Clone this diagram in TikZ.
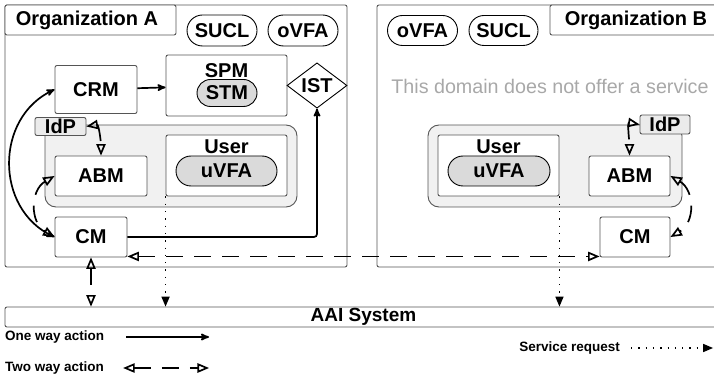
\documentclass[tikz,border=0pt]{standalone}
\usepackage{fontspec}
\setmainfont{Liberation Sans}
\usetikzlibrary{arrows,shapes.geometric,shapes.misc}
\usetikzlibrary{calc,positioning}
\definecolor{framegray}{HTML}{555555}
\definecolor{zonegray}{HTML}{F1F1F1}
\definecolor{pillgray}{HTML}{DADADA}
\definecolor{idpgray}{HTML}{EBEBEB}
\definecolor{notegray}{HTML}{A8A8A8}

\begin{document}
\begin{tikzpicture}[x=1pt,y=-1pt,>=stealth',
    every node/.style={font=\bfseries\fontsize{20}{22}\selectfont, inner sep=0pt},
    frame/.style={draw=framegray, line width=0.9pt, rounded corners=2pt},
    box/.style={draw=framegray, line width=0.9pt, fill=white, rounded corners=2pt},
    idp/.style={box, fill=idpgray},
    pill/.style={rounded rectangle, draw=black, line width=0.9pt, fill=white},
    vpill/.style={pill, fill=pillgray},
    userzone/.style={draw=framegray, line width=0.9pt, fill=zonegray, rounded corners=11pt},
    oneway/.style={line width=1.7pt},
    twoway/.style={open triangle 45-open triangle 45, line width=1.7pt, dash pattern=on 17pt off 11pt},
    request/.style={-triangle 45, line width=1.3pt, dash pattern=on 1.3pt off 6pt},
    legend/.style={font=\bfseries\fontsize{13.5}{16}\selectfont}]

    \useasboundingbox (0,0) rectangle (714,379);

    % organizations
    \node[frame, minimum width=342, minimum height=262] (orgA) at (176,136) {};
    \node[frame, minimum width=344, minimum height=262] (orgB) at (549,136) {};
    \node[box, minimum width=171, minimum height=30] (titleA) at (90.5,20) {};
    \node (titleAlabel) at (87,20) {Organization A};
    \node[box, minimum width=172, minimum height=30] (titleB) at (636,20) {Organization B};

    \node[pill, minimum width=70, minimum height=31] (SUCLa) at (222,30.5) {SUCL};
    \node[pill, minimum width=70, minimum height=31] (oVFAa) at (303,30.5) {oVFA};
    \node[pill, minimum width=70, minimum height=30] (oVFAb) at (422.5,30.5) {oVFA};
    \node[pill, minimum width=69, minimum height=30] (SUCLb) at (503.5,30.5) {SUCL};

    % organization A
    \node[box, minimum width=82, minimum height=48] (CRMa) at (96,89.5) {CRM};
    \node[box, minimum width=121, minimum height=61] (SPMa) at (226.5,85.5) {};
    \node (SPMlabel) [below=9pt of SPMa.north] {SPM};
    \node[vpill, minimum width=60, minimum height=27] (STMa) at (227,93) {STM};
    \node[diamond, draw=black, line width=0.9pt, fill=white, minimum width=60, minimum height=39] (ISTa) at (317,85.5) {IST};

    \node[userzone, minimum width=252, minimum height=82] (zoneA) at (171,166) {};
    \node[idp, minimum width=51, minimum height=18] (IdPa) at (60.5,126.5) {IdP};
    \node[box, minimum width=121, minimum height=61] (USERa) at (226.5,165.5) {};
    \node (USERalabel) [below=5pt of USERa.north] {User};
    \node[vpill, minimum width=101, minimum height=30] (uVFAa) at (226.5,171) {uVFA};
    \node[box, minimum width=92, minimum height=40] (ABMa) at (101,176) {ABM};
    \node[box, minimum width=72, minimum height=40] (CMa) at (91,237) {CM};

    % organization B
    \node[font=\fontsize{19.7}{22}\selectfont, text=notegray] (note) at (550,86) {This domain does not offer a service};
    \node[userzone, minimum width=254, minimum height=82] (zoneB) at (555,166) {};
    \node[idp, minimum width=50, minimum height=19] (IdPb) at (665,124.5) {IdP};
    \node[box, minimum width=121, minimum height=61] (USERb) at (498.5,165.5) {};
    \node (USERblabel) [below=5pt of USERb.north] {User};
    \node[vpill, minimum width=102, minimum height=30] (uVFAb) at (499,171) {uVFA};
    \node[box, minimum width=81, minimum height=40] (ABMb) at (629.5,176) {ABM};
    \node[box, minimum width=70, minimum height=40] (CMb) at (635,237) {CM};

    \node[box, minimum width=717, minimum height=20, font=\bfseries\fontsize{19}{22}\selectfont] (AAI) at (363.5,317) {AAI System};

    % connectors
    \path[->,oneway] (CRMa) edge (SPMa);
    \draw[->,oneway,rounded corners=3pt] (CMa.east) -- (ISTa.south |- CMa.east) -- (ISTa.south);
    \path[<->,oneway] (CRMa.west) edge[out=205,in=155,looseness=1.15] (CMa.west);
    \path[twoway] (ABMa.west) edge[out=210,in=150,looseness=1.2] (CMa.west);
    \path[twoway] (IdPa.east) edge[out=10,in=90] (ABMa.north);
    \path[twoway] (IdPb.west) edge[out=170,in=90] (ABMb.north);
    \path[twoway] (ABMb.east) edge[out=-30,in=30,looseness=1.2] (CMb.east);
    \draw[twoway] ([yshift=1pt]CMa.south east) -- ([yshift=1pt]CMb.south west);
    \draw[twoway] (CMa.south) -- (CMa.south |- AAI.north);
    \draw[request] (USERa.south west) -- (USERa.south west |- AAI.north);
    \draw[request] (USERb.south east) -- (USERb.south east |- AAI.north);

    % legend
    \node[legend, anchor=west] (oneway) at (5,337) {One way action};
    \node[legend, anchor=west] (twoway) at (5,368) {Two way action};
    \node[legend, anchor=east] (request) at (620,348) {Service request};
    \coordinate (onewayend) at (209,337);
    \coordinate (twowayend) at (209,368);
    \coordinate (requestend) at (713,348);
    \draw[->,oneway] ([xshift=22pt]oneway.east) -- (onewayend);
    \draw[twoway] ([xshift=19pt]twoway.east) -- (twowayend);
    \draw[request] ([xshift=11pt]request.east) -- (requestend);

\end{tikzpicture}
\end{document}
